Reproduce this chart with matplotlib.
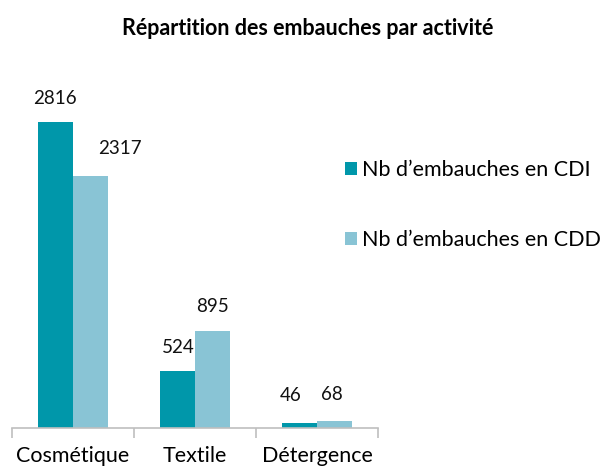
import matplotlib.pyplot as plt
import numpy as np

plt.rcParams['font.family'] = ['Lato', 'DejaVu Sans']

# données
activites = ["Cosmétique", "Textile", "Détergence"]
cdi = [2816, 524, 46]
cdd = [2317, 895, 68]
series = ["Nb d’embauches en CDI", "Nb d’embauches en CDD"]
couleurs = ["#0097AA", "#89C4D5"]

# décalage des étiquettes (en points), comme dans Excel
dx_cdi = [0, 1, -6]
dx_cdd = [21, 0, -2]
dy_cdi = [11, 11, 14]
dy_cdd = [14, 11, 13]

fig = plt.figure(figsize=(6.09, 4.67), dpi=100)
ax = fig.add_axes([12 / 609, 39 / 467, 366 / 609, 326 / 467])

x = np.arange(len(activites))
w = 0.29
b1 = ax.bar(x - w / 2, cdi, w, color=couleurs[0], label=series[0])
b2 = ax.bar(x + w / 2, cdd, w, color=couleurs[1], label=series[1])

for bars, dxs, dys in ((b1, dx_cdi, dy_cdi), (b2, dx_cdd, dy_cdd)):
    for r, dx, dy in zip(bars, dxs, dys):
        ax.annotate(str(int(r.get_height())), (r.get_x() + r.get_width() / 2, r.get_height()),
                    xytext=(dx, dy), textcoords="offset points", ha="center", va="bottom",
                    fontsize=13.5, color="#111111")

ax.set_xlim(-0.5, 2.5)
ax.set_ylim(0, 3000)
ax.set_yticks([])
for s in ["top", "right", "left"]:
    ax.spines[s].set_visible(False)
ax.spines["bottom"].set_color("#BFBFBF")
ax.spines["bottom"].set_linewidth(1.2)

ax.set_xticks(x)
ax.set_xticklabels(activites, fontsize=15.5)
ax.set_xticks([-0.5, 0.5, 1.5, 2.5], minor=True)
ax.tick_params(axis="x", which="major", length=0, pad=13)
ax.tick_params(axis="x", which="minor", length=7, color="#BFBFBF", width=1.2)

fig.text(0.505, 0.94, "Répartition des embauches par activité", ha="center", va="center",
         fontsize=15.5, fontweight="bold")

fig.legend(loc="upper left", bbox_to_anchor=(326 / 609, 1 - 141 / 467), frameon=False,
           fontsize=15.5, handlelength=0.55, handleheight=0.55, handletextpad=0.2,
           labelspacing=2.3)

plt.savefig("out.png", dpi=100)
